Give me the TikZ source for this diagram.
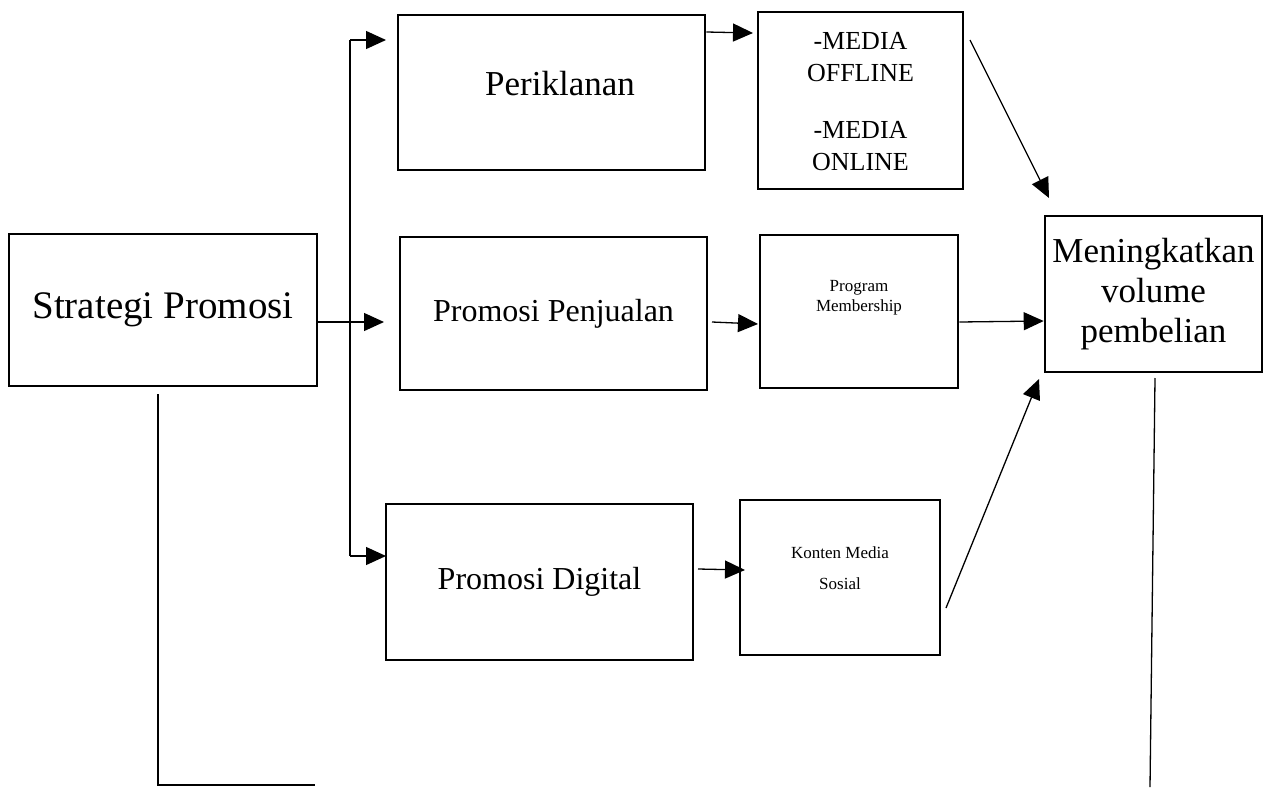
\documentclass[tikz,border=0pt]{standalone}
\usepackage{fontspec}
\setmainfont{Liberation Serif}
\usetikzlibrary{arrows.meta}
\tikzset{
  box/.style={draw, line width=2.6pt, inner sep=0pt, align=center, anchor=center},
  txt/.style={inner sep=0pt, align=center},
  conn/.style={line width=1.3pt},
  arr/.style={conn, -{Triangle[length=20pt,width=18pt]}},
}
\begin{document}
\begin{tikzpicture}[x=1pt,y=-1pt]
\useasboundingbox (0,0) rectangle (1279,787);
\node[box, minimum width=308, minimum height=152, font=\fontsize{39}{40}\selectfont] (sp) at (163,310) {Strategi Promosi};
\node[box, minimum width=307, minimum height=155] (pk) at (551.5,92.5) {};
\node[txt, font=\fontsize{35}{40}\selectfont] (pkt) at (560,84) {Periklanan};
\node[box, minimum width=205, minimum height=177] (md) at (860.5,100.5) {};
\node[txt, font=\fontsize{26}{32}\selectfont] (mdt) at (860.5,102) {-MEDIA\\OFFLINE\\[25pt]-MEDIA\\ONLINE};
\node[box, minimum width=307, minimum height=153, font=\fontsize{32}{40}\selectfont] (pp) at (553.5,313.5) {Promosi Penjualan};
\node[box, minimum width=198, minimum height=153] (pm) at (859,311.5) {};
\node[txt, font=\fontsize{17}{20}\selectfont] (pmt) at (859,298) {Program\\Membership};
\node[box, minimum width=217, minimum height=156, font=\fontsize{35}{40}\selectfont] (mv) at (1153.5,294) {Meningkatkan\\volume\\pembelian};
\node[box, minimum width=307, minimum height=156, font=\fontsize{32}{40}\selectfont] (pd) at (539.5,582) {Promosi Digital};
\node[box, minimum width=200, minimum height=155] (km) at (840,577.5) {};
\node[txt, font=\fontsize{17}{31}\selectfont] (kmt) at (840,568) {Konten Media\\Sosial};
% branch from Strategi Promosi
\coordinate (j) at (350,322);
\coordinate (jt) at (350,40);
\coordinate (jb) at (350,556);
\draw[conn] (sp.east |- j) -- (j);
\draw[conn] (jt) -- (jb);
\draw[arr] (jt) -- (386,40);
\draw[arr] (j) -- (384,322);
\draw[arr] (jb) -- (386,556);
% second column arrows
\draw[arr] (pk.east |- 0,32) -- (753,33);
\draw[arr] (712,322) -- (758,324);
\draw[arr] (698,569) -- (745,570);
% to result
\draw[arr] (970,40) -- (1049,198);
\draw[arr] (pm.east |- 0,322) -- (mv.west |- 0,321);
\draw[arr] (946,608) -- (1039,379);
% bottom lines
\coordinate (bl) at (158,785);
\coordinate (br) at (315,785);
\draw[conn] (158,394) -- (bl) -- (br);
\coordinate (rb) at (1150,787);
\draw[conn] (1155,378) -- (rb);
\end{tikzpicture}
\end{document}
